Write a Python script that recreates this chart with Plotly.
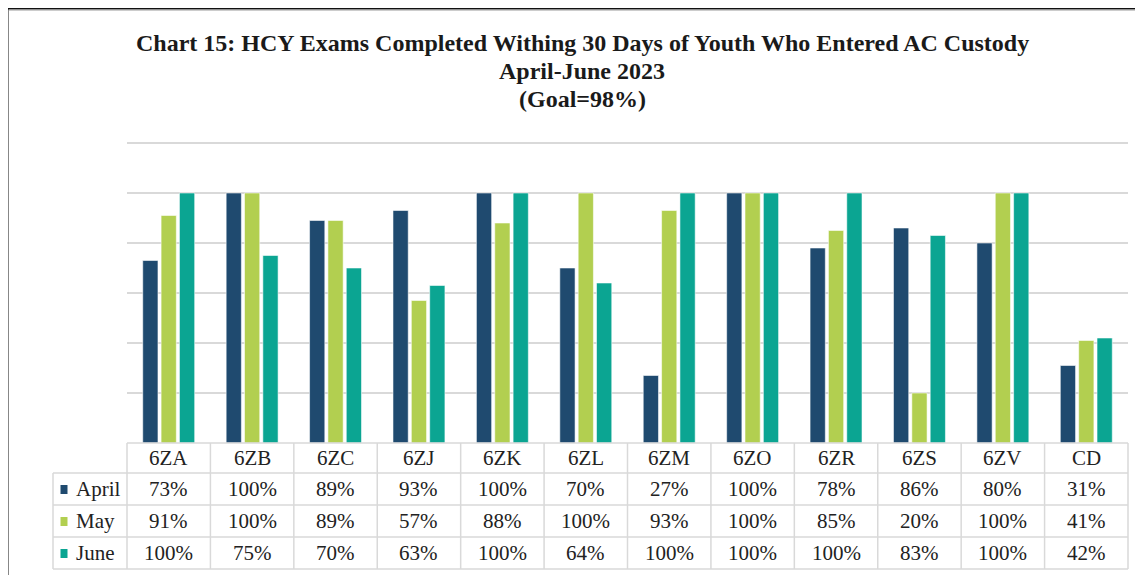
import plotly.graph_objects as go

# The page body has an 8px margin, so the figure is placed at (8, 8)
OFF = 8
W, H = 1143 - OFF, 575 - OFF

categories = ["6ZA", "6ZB", "6ZC", "6ZJ", "6ZK", "6ZL", "6ZM", "6ZO", "6ZR", "6ZS", "6ZV", "CD"]
april = [73, 100, 89, 93, 100, 70, 27, 100, 78, 86, 80, 31]
may = [91, 100, 89, 57, 88, 100, 93, 100, 85, 20, 100, 41]
june = [100, 75, 70, 63, 100, 64, 100, 100, 100, 83, 100, 42]
series_names = ["April", "May", "June"]
series_values = [april, may, june]
series_colors = ["#1f4a6f", "#b2cf50", "#0ba592"]

title_lines = [
    "Chart 15: HCY Exams Completed Withing 30 Days of Youth Who Entered AC Custody",
    "April-June 2023",
    "(Goal=98%)",
]


def px(x):
    return (x - OFF) / W


def py(y):
    return 1 - (y - OFF) / H


SERIF = "Liberation Serif, Times New Roman, serif"
GRID = "#d9d9d9"

fig = go.Figure()
for name, vals, col in zip(series_names, series_values, series_colors):
    fig.add_trace(go.Bar(
        x=categories, y=vals, name=name,
        marker=dict(color=col, line=dict(color="rgba(255,255,255,0.55)", width=1)),
        showlegend=False, hoverinfo="x+y+name",
    ))

plot_left, plot_right = 127, 1128
base_y, top_y = 443, 140.5
row_ys = [443, 473, 505, 537, 569]
label_left = 53

shapes = []
# outer border of the chart frame
shapes.append(dict(type="rect", xref="paper", yref="paper",
                   x0=px(7.5), x1=1.02, y0=-0.02, y1=py(8.5),
                   line=dict(color="#111111", width=2), fillcolor="rgba(0,0,0,0)", layer="below"))
shapes.append(dict(type="line", xref="paper", yref="paper", x0=px(9), x1=1.02,
                   y0=py(10), y1=py(10), line=dict(color="#9a9a9a", width=1), layer="below"))
# table horizontal lines
shapes.append(dict(type="line", xref="paper", yref="paper", x0=px(plot_left), x1=px(plot_right),
                   y0=py(row_ys[0]), y1=py(row_ys[0]), line=dict(color=GRID, width=1.5)))
for ry in row_ys[1:]:
    shapes.append(dict(type="line", xref="paper", yref="paper", x0=px(label_left), x1=px(plot_right),
                       y0=py(ry), y1=py(ry), line=dict(color=GRID, width=1.5)))
# table vertical lines: outer edges
shapes.append(dict(type="line", xref="paper", yref="paper", x0=px(label_left), x1=px(label_left),
                   y0=py(row_ys[1]), y1=py(row_ys[-1]), line=dict(color=GRID, width=1.5)))
shapes.append(dict(type="line", xref="paper", yref="paper", x0=px(plot_left), x1=px(plot_left),
                   y0=py(row_ys[0]), y1=py(row_ys[-1]), line=dict(color=GRID, width=1.5)))
shapes.append(dict(type="line", xref="paper", yref="paper", x0=px(plot_right), x1=px(plot_right),
                   y0=py(row_ys[0]), y1=py(row_ys[-1]), line=dict(color=GRID, width=1.5)))
# inner category boundaries through the x axis
for i in range(1, len(categories)):
    shapes.append(dict(type="line", xref="x", yref="paper", x0=i - 0.5, x1=i - 0.5,
                       y0=py(row_ys[0]), y1=py(row_ys[-1]), line=dict(color=GRID, width=1.5)))

annotations = []
title_ys = [43, 71, 99]
for t, ty in zip(title_lines, title_ys):
    annotations.append(dict(text="<b>" + t + "</b>", xref="paper", yref="paper", x=px(582), y=py(ty),
                            xanchor="center", yanchor="middle", showarrow=False,
                            font=dict(family=SERIF, size=24, color="#1a1a1a")))

# header row: category labels
for c in categories:
    annotations.append(dict(text=c, xref="x", yref="paper", x=c, y=py((row_ys[0] + row_ys[1]) / 2),
                            xanchor="center", yanchor="middle", showarrow=False,
                            font=dict(family=SERIF, size=21, color="#222222")))
# data rows
for r, (name, vals, col) in enumerate(zip(series_names, series_values, series_colors)):
    cy = (row_ys[r + 1] + row_ys[r + 2]) / 2
    annotations.append(dict(text=name, xref="paper", yref="paper", x=px(74), y=py(cy),
                            xanchor="left", yanchor="middle", showarrow=False,
                            font=dict(family=SERIF, size=21, color="#222222")))
    shapes.append(dict(type="rect", xref="paper", yref="paper", x0=px(60.5), x1=px(67.5),
                       y0=py(cy + 5), y1=py(cy - 4), fillcolor=col, line=dict(width=0)))
    for c, v in zip(categories, vals):
        annotations.append(dict(text=f"{v}%", xref="x", yref="paper", x=c, y=py(cy),
                                xanchor="center", yanchor="middle", showarrow=False,
                                font=dict(family=SERIF, size=21, color="#222222")))

fig.update_layout(
    width=W, height=H,
    margin=dict(l=0, r=0, t=0, b=0),
    paper_bgcolor="white", plot_bgcolor="white",
    barmode="group", bargap=0.34, bargroupgap=0.17,
    xaxis=dict(domain=[px(plot_left), px(plot_right)], range=[-0.5, len(categories) - 0.5],
               showticklabels=False, showgrid=False, zeroline=False, showline=False, ticks=""),
    yaxis=dict(domain=[py(base_y), py(top_y)], range=[0, 121], dtick=20, tick0=0,
               showticklabels=False, showgrid=True, gridcolor=GRID, gridwidth=1.5,
               zeroline=False, showline=False, ticks=""),
    shapes=shapes,
    annotations=annotations,
)

fig.write_html("out.html")
